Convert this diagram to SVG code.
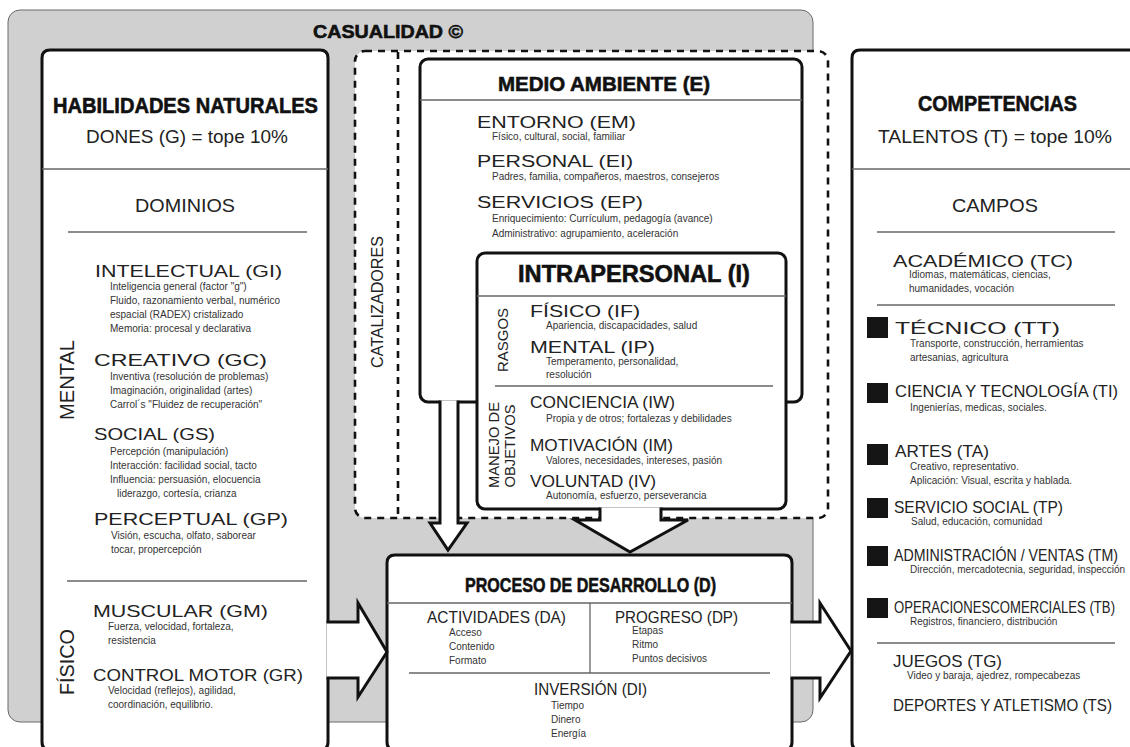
<svg xmlns="http://www.w3.org/2000/svg" width="1130" height="747" viewBox="0 0 1130 747">
<style>
.bg{fill:#d0d0d0;stroke:#6a6a6a;stroke-width:1}
.box{fill:#fff;stroke:#111;stroke-width:3;stroke-linejoin:round}
.dash{fill:#fff;stroke:#111;stroke-width:2.6;stroke-dasharray:7 6}
.dashl{fill:none;stroke:#111;stroke-width:2.6;stroke-dasharray:7 6}
.sep{fill:none;stroke:#666;stroke-width:1.3}
.arr{fill:#fff;stroke:#111;stroke-width:3;stroke-linejoin:miter}
.sq{fill:#151515}
text{font-family:"Liberation Sans",Arial,sans-serif}
.tt{font-weight:bold;fill:#111;stroke:#111;stroke-width:0.6}
.h{fill:#222;font-size:17px}
.hn{fill:#222}
.hm{fill:#222;font-size:16px}
.sub{fill:#222;font-size:18.5px}
.s{fill:#333;font-size:10px}
.rot{fill:#222;text-anchor:middle;dominant-baseline:central}
</style>

<g id="casualidad">
<rect class="bg" x="8" y="10" width="805" height="712" rx="12"/>
<text class="tt" x="313" y="38" font-size="19" textLength="150" lengthAdjust="spacingAndGlyphs">CASUALIDAD ©</text>
</g>

<g id="catalizadores">
<rect class="dash" x="355" y="51" width="473" height="467" rx="10"/>
<line class="dashl" x1="398" y1="52" x2="398" y2="516"/>
<text class="rot" transform="translate(377,302) rotate(-90)" font-size="16" textLength="132" lengthAdjust="spacingAndGlyphs">CATALIZADORES</text>
</g>

<g id="habilidades">
<path class="box" d="M50,50 H320 Q328,50 328,58 V742 Q328,750 320,750 H50 Q42,750 42,742 V58 Q42,50 50,50 Z"/>
<line class="sep" x1="42" y1="169" x2="328" y2="169"/>
<line class="sep" x1="68" y1="232" x2="307" y2="232"/>
<line class="sep" x1="67" y1="581" x2="307" y2="581"/>
<text class="tt" x="53" y="113" font-size="22" textLength="265" lengthAdjust="spacingAndGlyphs">HABILIDADES NATURALES</text>
<text class="sub" x="86" y="143" textLength="202" lengthAdjust="spacingAndGlyphs">DONES (G) = tope 10%</text>
<text class="sub" x="135" y="212" textLength="100" lengthAdjust="spacingAndGlyphs">DOMINIOS</text>
<text class="rot" transform="translate(67,380) rotate(-90)" font-size="20" textLength="80" lengthAdjust="spacingAndGlyphs">MENTAL</text>
<text class="rot" transform="translate(67,662) rotate(-90)" font-size="20" textLength="66" lengthAdjust="spacingAndGlyphs">FÍSICO</text>
<text class="h" x="95" y="277" textLength="187" lengthAdjust="spacingAndGlyphs">INTELECTUAL (GI)</text>
<text class="s" x="110" y="290">Inteligencia general (factor "g")</text>
<text class="s" x="110" y="304">Fluido, razonamiento verbal, numérico</text>
<text class="s" x="110" y="318">espacial (RADEX) cristalizado</text>
<text class="s" x="110" y="332">Memoria: procesal y declarativa</text>
<text class="h" x="94" y="366" textLength="173" lengthAdjust="spacingAndGlyphs">CREATIVO (GC)</text>
<text class="s" x="110" y="380">Inventiva (resolución de problemas)</text>
<text class="s" x="110" y="394">Imaginación, originalidad (artes)</text>
<text class="s" x="110" y="408">Carrol´s "Fluidez de recuperación"</text>
<text class="h" x="94" y="440" textLength="121" lengthAdjust="spacingAndGlyphs">SOCIAL (GS)</text>
<text class="s" x="110" y="455">Percepción (manipulación)</text>
<text class="s" x="110" y="469">Interacción: facilidad social, tacto</text>
<text class="s" x="110" y="483">Influencia: persuasión, elocuencia</text>
<text class="s" x="117" y="497">liderazgo, cortesía, crianza</text>
<text class="h" x="94" y="525" textLength="194" lengthAdjust="spacingAndGlyphs">PERCEPTUAL (GP)</text>
<text class="s" x="111" y="539">Visión, escucha, olfato, saborear</text>
<text class="s" x="111" y="553">tocar, propercepción</text>
<text class="h" x="93" y="617" textLength="175" lengthAdjust="spacingAndGlyphs">MUSCULAR (GM)</text>
<text class="s" x="108" y="630">Fuerza, velocidad, fortaleza,</text>
<text class="s" x="108" y="644">resistencia</text>
<text class="h" x="93" y="681" textLength="210" lengthAdjust="spacingAndGlyphs">CONTROL MOTOR (GR)</text>
<text class="s" x="108" y="694">Velocidad (reflejos), agilidad,</text>
<text class="s" x="108" y="708">coordinación, equilibrio.</text>
</g>

<g id="competencias">
<path class="box" d="M860,50 H1140 V750 H860 Q852,750 852,742 V58 Q852,50 860,50 Z"/>
<line class="sep" x1="852" y1="169" x2="1130" y2="169"/>
<line class="sep" x1="877" y1="232" x2="1115" y2="232"/>
<line class="sep" x1="877" y1="305" x2="1115" y2="305"/>
<line class="sep" x1="877" y1="643" x2="1115" y2="643"/>
<text class="tt" x="918" y="111" font-size="22" textLength="159" lengthAdjust="spacingAndGlyphs">COMPETENCIAS</text>
<text class="sub" x="878" y="143" textLength="234" lengthAdjust="spacingAndGlyphs">TALENTOS (T) = tope 10%</text>
<text class="sub" x="952" y="212" textLength="86" lengthAdjust="spacingAndGlyphs">CAMPOS</text>
<text class="h" x="893" y="267" textLength="180" lengthAdjust="spacingAndGlyphs">ACADÉMICO (TC)</text>
<text class="s" x="909" y="278">Idiomas, matemáticas, ciencias,</text>
<text class="s" x="909" y="292">humanidades, vocación</text>
<rect class="sq" x="867" y="317" width="21" height="21"/>
<text class="h" x="895" y="334" textLength="165" lengthAdjust="spacingAndGlyphs">TÉCNICO (TT)</text>
<text class="s" x="910" y="347">Transporte, construcción, herramientas</text>
<text class="s" x="910" y="361">artesanias, agricultura</text>
<rect class="sq" x="867" y="383" width="21" height="20"/>
<text class="h" x="895" y="397" textLength="223" lengthAdjust="spacingAndGlyphs">CIENCIA Y TECNOLOGÍA (TI)</text>
<text class="s" x="910" y="411">Ingenierías, medicas, sociales.</text>
<rect class="sq" x="867" y="444" width="21" height="21"/>
<text class="h" x="895" y="457" textLength="94" lengthAdjust="spacingAndGlyphs">ARTES (TA)</text>
<text class="s" x="910" y="470">Creativo, representativo.</text>
<text class="s" x="910" y="484">Aplicación: Visual, escrita y hablada.</text>
<rect class="sq" x="867" y="498" width="21" height="20"/>
<text class="h" x="894" y="513" textLength="169" lengthAdjust="spacingAndGlyphs">SERVICIO SOCIAL (TP)</text>
<text class="s" x="911" y="525">Salud, educación, comunidad</text>
<rect class="sq" x="867" y="546" width="21" height="20"/>
<text class="hn" transform="translate(894,561) scale(1,1.17)" x="0" y="0" style="font-size:14.5px" textLength="224" lengthAdjust="spacingAndGlyphs">ADMINISTRACIÓN / VENTAS (TM)</text>
<text class="s" x="910" y="573">Dirección, mercadotecnia, seguridad, inspección</text>
<rect class="sq" x="867" y="598" width="21" height="20"/>
<text class="hn" transform="translate(894,613) scale(1,1.26)" x="0" y="0" style="font-size:13.5px" textLength="221" lengthAdjust="spacingAndGlyphs">OPERACIONESCOMERCIALES (TB)</text>
<text class="s" x="910" y="625">Registros, financiero, distribución</text>
<text class="h" x="893" y="667" textLength="109" lengthAdjust="spacingAndGlyphs">JUEGOS (TG)</text>
<text class="s" x="907" y="679">Video y baraja, ajedrez, rompecabezas</text>
<text class="hn" transform="translate(893,711) scale(1,1.13)" x="0" y="0" style="font-size:15px" textLength="219" lengthAdjust="spacingAndGlyphs">DEPORTES Y ATLETISMO (TS)</text>
</g>

<g id="medio-ambiente">
<rect class="box" x="420" y="59" width="382" height="343" rx="8"/>
<line class="sep" x1="420" y1="100" x2="802" y2="100"/>
<text class="tt" x="498" y="91" font-size="21" textLength="212" lengthAdjust="spacingAndGlyphs">MEDIO AMBIENTE (E)</text>
<text class="hm" x="477" y="128" textLength="159" lengthAdjust="spacingAndGlyphs">ENTORNO (EM)</text>
<text class="s" x="492" y="140">Físico, cultural, social, familiar</text>
<text class="hm" x="477" y="167" textLength="156" lengthAdjust="spacingAndGlyphs">PERSONAL (EI)</text>
<text class="s" x="492" y="180">Padres, familia, compañeros, maestros, consejeros</text>
<text class="hm" x="477" y="208" textLength="166" lengthAdjust="spacingAndGlyphs">SERVICIOS (EP)</text>
<text class="s" x="492" y="222">Enriquecimiento: Currículum, pedagogía (avance)</text>
<text class="s" x="492" y="237">Administrativo: agrupamiento, aceleración</text>
</g>

<g id="intrapersonal">
<rect class="box" x="477" y="253" width="309" height="256" rx="8"/>
<line class="sep" x1="477" y1="296" x2="786" y2="296"/>
<line class="sep" x1="495" y1="386" x2="773" y2="386"/>
<text class="tt" x="518" y="282" font-size="24" textLength="232" lengthAdjust="spacingAndGlyphs">INTRAPERSONAL (I)</text>
<text class="rot" transform="translate(502,340) rotate(-90)" font-size="15" textLength="64" lengthAdjust="spacingAndGlyphs">RASGOS</text>
<text class="rot" transform="translate(493,445) rotate(-90)" font-size="15" textLength="86" lengthAdjust="spacingAndGlyphs">MANEJO DE</text>
<text class="rot" transform="translate(509,446) rotate(-90)" font-size="15" textLength="83" lengthAdjust="spacingAndGlyphs">OBJETIVOS</text>
<text class="hm" x="530" y="317" textLength="110" lengthAdjust="spacingAndGlyphs">FÍSICO (IF)</text>
<text class="s" x="546" y="329">Apariencia, discapacidades, salud</text>
<text class="hm" x="530" y="353" textLength="125" lengthAdjust="spacingAndGlyphs">MENTAL (IP)</text>
<text class="s" x="546" y="365">Temperamento, personalidad,</text>
<text class="s" x="546" y="378">resolución</text>
<text class="hm" x="530" y="408" textLength="145" lengthAdjust="spacingAndGlyphs">CONCIENCIA (IW)</text>
<text class="s" x="546" y="422">Propia y de otros; fortalezas y debilidades</text>
<text class="hm" x="530" y="451" textLength="143" lengthAdjust="spacingAndGlyphs">MOTIVACIÓN (IM)</text>
<text class="s" x="546" y="464">Valores, necesidades, intereses, pasión</text>
<text class="hm" x="530" y="487" textLength="126" lengthAdjust="spacingAndGlyphs">VOLUNTAD (IV)</text>
<text class="s" x="546" y="499">Autonomía, esfuerzo, perseverancia</text>
</g>

<g id="proceso">
<path class="box" d="M395,555 H784 Q792,555 792,563 V742 Q792,750 784,750 H395 Q387,750 387,742 V563 Q387,555 395,555 Z"/>
<line class="sep" x1="387" y1="603" x2="792" y2="603"/>
<line class="sep" x1="590" y1="603" x2="590" y2="673"/>
<line class="sep" x1="409" y1="673" x2="770" y2="673"/>
<text class="tt" x="465" y="592" font-size="21" textLength="251" lengthAdjust="spacingAndGlyphs">PROCESO DE DESARROLLO (D)</text>
<text class="h" x="427" y="623" textLength="139" lengthAdjust="spacingAndGlyphs">ACTIVIDADES (DA)</text>
<text class="s" x="449" y="636">Acceso</text>
<text class="s" x="449" y="650">Contenido</text>
<text class="s" x="449" y="664">Formato</text>
<text class="h" x="615" y="623" textLength="123" lengthAdjust="spacingAndGlyphs">PROGRESO (DP)</text>
<text class="s" x="632" y="634">Etapas</text>
<text class="s" x="632" y="648">Ritmo</text>
<text class="s" x="632" y="662">Puntos decisivos</text>
<text class="h" x="534" y="695" textLength="113" lengthAdjust="spacingAndGlyphs">INVERSIÓN (DI)</text>
<text class="s" x="551" y="709">Tiempo</text>
<text class="s" x="551" y="723">Dinero</text>
<text class="s" x="551" y="737">Energía</text>
</g>

<g id="connectors">
<path class="arr" d="M326.5,622 H358 V603 L387,652 L358,697 V678 H326.5"/>
<path class="arr" d="M790.5,622 H820 V603 L851,651 L820,698 V678 H790.5"/>
<path class="arr" d="M440,400.5 V523 H430 L448,550 L467,523 H458 V400.5"/>
<path class="arr" d="M600,507.5 V520 H575 L630,552 L688,520 H661 V507.5"/>
</g>
</svg>
